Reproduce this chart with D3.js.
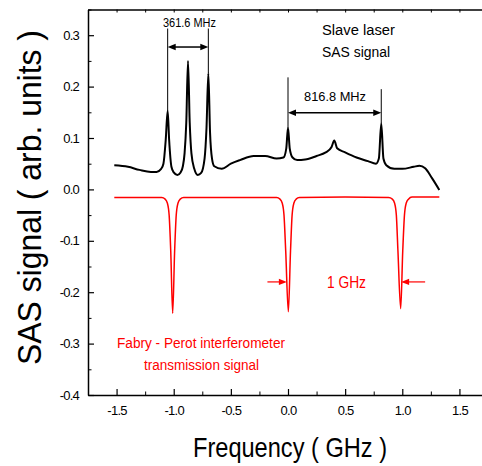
<!DOCTYPE html>
<html>
<head>
<meta charset="utf-8">
<script src="https://cdn.jsdelivr.net/npm/d3@7"></script>
<style>
  body { margin: 0; background: #fff; }
  svg { display: block; font-family: "Liberation Sans", Arial, sans-serif; }
</style>
</head>
<body>
<svg id="chart" width="482" height="466"></svg>
<script>
// SAS signal of the slave laser (frequency in GHz, signal in arb. units)
var sasFreq = [-1.52, -1.4, -1.3, -1.2, -1.15, -1.11, -1.09, -1.07, -1.053, -1.04, -1.02, -1.0, -0.968,
  -0.94, -0.92, -0.905, -0.89, -0.875, -0.86, -0.845, -0.82, -0.79, -0.76, -0.73, -0.713, -0.697,
  -0.682, -0.665, -0.645, -0.58, -0.5, -0.42, -0.3, -0.2, -0.1, -0.04, -0.015, 0.0, 0.015, 0.04,
  0.08, 0.15, 0.25, 0.33, 0.38, 0.405, 0.43, 0.5, 0.6, 0.7, 0.77, 0.795, 0.816, 0.835, 0.86,
  0.93, 1.0, 1.1, 1.15, 1.2, 1.26, 1.324];
var sasValue = [0.047, 0.044, 0.038, 0.034, 0.034, 0.040, 0.050, 0.096, 0.153, 0.096, 0.044, 0.033, 0.028,
  0.033, 0.045, 0.070, 0.130, 0.250, 0.130, 0.070, 0.040, 0.028, 0.032, 0.060, 0.120, 0.226,
  0.110, 0.060, 0.045, 0.040, 0.050, 0.057, 0.065, 0.065, 0.060, 0.062, 0.080, 0.120, 0.080, 0.062,
  0.057, 0.058, 0.065, 0.072, 0.082, 0.095, 0.080, 0.072, 0.062, 0.055, 0.050, 0.060, 0.128, 0.060, 0.047,
  0.040, 0.040, 0.044, 0.046, 0.041, 0.022, -0.001];

// Fabry-Perot transmission signal
var fpFreq = [-1.52, -1.2, -1.105, -1.075, -1.055, -1.04, -1.026, -1.009, -0.992, -0.978, -0.963, -0.943, -0.913,
  -0.5, -0.1, -0.07, -0.05, -0.035, -0.02, 0.003, 0.022, 0.036, 0.051, 0.071, 0.1,
  0.5, 0.88, 0.913, 0.933, 0.948, 0.962, 0.986, 1.004, 1.019, 1.034, 1.054, 1.085, 1.324];
var fpValue = [-0.016, -0.016, -0.016, -0.019, -0.027, -0.05, -0.12, -0.241, -0.12, -0.05, -0.027, -0.019, -0.016,
  -0.016, -0.016, -0.019, -0.027, -0.05, -0.12, -0.238, -0.12, -0.05, -0.027, -0.019, -0.016,
  -0.015, -0.016, -0.019, -0.027, -0.05, -0.12, -0.232, -0.12, -0.05, -0.027, -0.019, -0.015, -0.015];

var xMajor = [-1.5, -1.0, -0.5, 0.0, 0.5, 1.0, 1.5];
var xMinor = [-1.75, -1.25, -0.75, -0.25, 0.25, 0.75, 1.25, 1.75];
var yMajor = [-0.4, -0.3, -0.2, -0.1, 0.0, 0.1, 0.2, 0.3];
var yMinor = [-0.35, -0.25, -0.15, -0.05, 0.05, 0.15, 0.25, 0.35];

var svg = d3.select("#chart");
var plotL = 88, plotR = 488, plotT = 9.5, plotB = 395;

var x = d3.scaleLinear().domain([-1.75, 1.75]).range([plotL, plotR]);
var y = d3.scaleLinear().domain([-0.4, 0.35]).range([plotB, plotT]);

var line = d3.line()
  .curve(d3.curveMonotoneX)
  .x(function(d) { return x(d[0]); })
  .y(function(d) { return y(d[1]); });

var fmt = function(d) { return d3.format(".1f")(d).replace("\u2212", "-"); };

// axes (ticks point inward)
svg.append("g").attr("transform", "translate(0," + plotB + ")")
  .call(d3.axisBottom(x).tickValues(xMajor).tickSizeInner(-6).tickSizeOuter(0).tickFormat(fmt))
  .call(function(g) {
    g.select(".domain").attr("stroke-width", 1.5);
    g.selectAll(".tick line").attr("stroke-width", 1.2);
    g.selectAll(".tick text").attr("y", 11).attr("font-size", 13).attr("letter-spacing", -0.7).attr("fill", "#000");
  });
svg.append("g").attr("transform", "translate(0," + plotB + ")")
  .call(d3.axisBottom(x).tickValues(xMinor).tickSizeInner(-3.5).tickSizeOuter(0).tickFormat(""))
  .call(function(g) { g.select(".domain").remove(); });

svg.append("g").attr("transform", "translate(0," + plotT + ")")
  .call(d3.axisTop(x).tickValues(xMajor.concat(xMinor)).tickSizeInner(-3).tickSizeOuter(0).tickFormat(""))
  .call(function(g) { g.select(".domain").attr("stroke-width", 1.5); });

svg.append("g").attr("transform", "translate(" + plotL + ",0)")
  .call(d3.axisLeft(y).tickValues(yMajor).tickSizeInner(-6).tickSizeOuter(0).tickFormat(fmt))
  .call(function(g) {
    g.select(".domain").attr("stroke-width", 1.5);
    g.selectAll(".tick line").attr("stroke-width", 1.2);
    g.selectAll(".tick text").attr("x", -9).attr("font-size", 13).attr("letter-spacing", -0.8).attr("fill", "#000");
  });
svg.append("g").attr("transform", "translate(" + plotL + ",0)")
  .call(d3.axisLeft(y).tickValues(yMinor).tickSizeInner(-3.5).tickSizeOuter(0).tickFormat(""))
  .call(function(g) { g.select(".domain").remove(); });

// curves
svg.append("path")
  .datum(d3.zip(fpFreq, fpValue))
  .attr("d", line)
  .attr("fill", "none")
  .attr("stroke", "#ff0000")
  .attr("stroke-width", 1.5)
  .attr("stroke-linejoin", "round");

svg.append("path")
  .datum(d3.zip(sasFreq, sasValue))
  .attr("d", line)
  .attr("fill", "none")
  .attr("stroke", "#000")
  .attr("stroke-width", 2)
  .attr("stroke-linejoin", "round");

// arrow heads
function head(color, px, py, dir) {
  svg.append("path")
    .attr("d", "M" + px + "," + py + "l" + (-dir * 8) + ",-3.2l0,6.4z")
    .attr("fill", color);
}
function vline(fx, y0, y1) {
  svg.append("line")
    .attr("x1", x(fx)).attr("x2", x(fx)).attr("y1", y(y0)).attr("y2", y(y1))
    .attr("stroke", "#000").attr("stroke-width", 1);
}
function span(x0, x1, yv) {
  svg.append("line")
    .attr("x1", x(x0) + 6).attr("x2", x(x1) - 6).attr("y1", y(yv)).attr("y2", y(yv))
    .attr("stroke", "#000").attr("stroke-width", 1.5);
  head("#000", x(x0), y(yv), -1);
  head("#000", x(x1), y(yv), 1);
}

// 361.6 MHz
vline(-1.053, 0.313, 0.153);
vline(-0.697, 0.313, 0.226);
span(-1.053, -0.697, 0.277);
// 816.8 MHz
vline(0.0, 0.218, 0.12);
vline(0.816, 0.195, 0.128);
span(0.0, 0.816, 0.149);

// 1 GHz red arrows
svg.append("line").attr("x1", x(-0.18)).attr("x2", x(-0.05)).attr("y1", y(-0.18)).attr("y2", y(-0.18))
  .attr("stroke", "#ff0000").attr("stroke-width", 1.2);
head("#ff0000", x(-0.01), y(-0.18), 1);
svg.append("line").attr("x1", x(1.2)).attr("x2", x(1.03)).attr("y1", y(-0.18)).attr("y2", y(-0.18))
  .attr("stroke", "#ff0000").attr("stroke-width", 1.2);
head("#ff0000", x(0.99), y(-0.18), -1);

function label(txt, px, py, size, len, color) {
  svg.append("text")
    .attr("x", px).attr("y", py)
    .attr("font-size", size)
    .attr("fill", color || "#000")
    .attr("textLength", len)
    .attr("lengthAdjust", "spacingAndGlyphs")
    .text(txt);
}

label("361.6 MHz", 163, 26.5, 12.5, 53);
label("816.8 MHz", 304, 100.5, 13.5, 62);
label("Slave laser", 322, 35, 14, 73);
label("SAS signal", 322, 56.5, 14, 68);
label("1 GHz", 327, 287.5, 16, 39, "#ff0000");
label("Fabry - Perot interferometer", 117, 347.5, 15.5, 168, "#ff0000");
label("transmission signal", 144, 370, 15.5, 115, "#ff0000");

label("Frequency ( GHz )", 193, 457, 28, 194);

svg.append("text")
  .attr("transform", "translate(41,365) rotate(-90)")
  .attr("font-size", 34)
  .attr("textLength", 335)
  .attr("lengthAdjust", "spacingAndGlyphs")
  .text("SAS signal ( arb. units )");
</script>
</body>
</html>
